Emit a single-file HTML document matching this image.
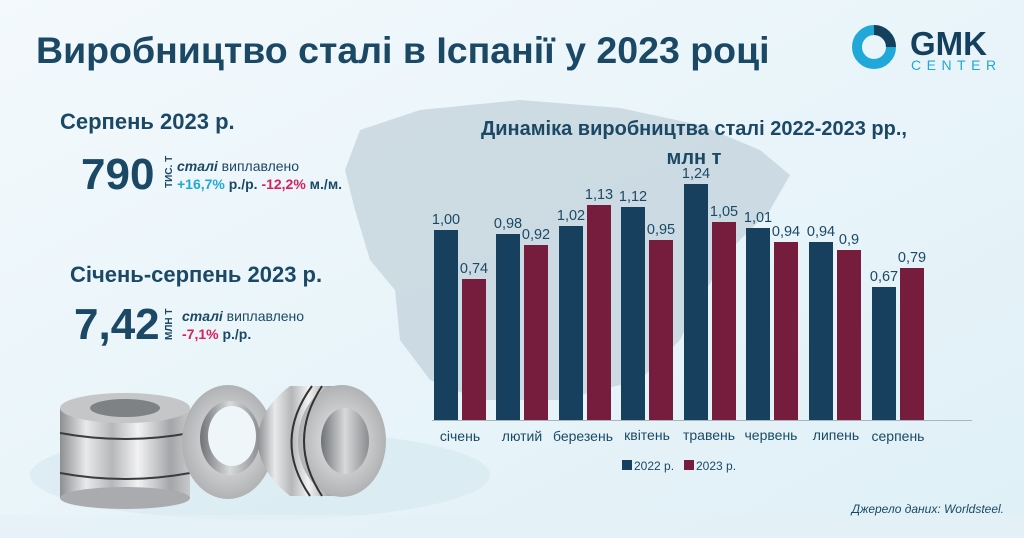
<!DOCTYPE html>
<html><head><meta charset="utf-8">
<style>
html,body{margin:0;padding:0}
body{width:1024px;height:538px;overflow:hidden;font-family:"Liberation Sans",sans-serif;}
svg text{font-family:"Liberation Sans",sans-serif;}
</style></head><body>
<svg width="1024" height="538" viewBox="0 0 1024 538" xmlns="http://www.w3.org/2000/svg">
<defs>
<linearGradient id="bg" x1="0" y1="0" x2="1" y2="1">
<stop offset="0" stop-color="#f3f9fc"/><stop offset="1" stop-color="#dff0f7"/>
</linearGradient>
<linearGradient id="metal" x1="0" y1="0" x2="1" y2="0">
<stop offset="0" stop-color="#8d8f92"/><stop offset="0.2" stop-color="#e8e9ea"/><stop offset="0.4" stop-color="#b5b7b9"/><stop offset="0.6" stop-color="#f2f2f3"/><stop offset="0.85" stop-color="#a3a5a8"/><stop offset="1" stop-color="#c8c9cb"/>
</linearGradient>
<radialGradient id="face" cx="0.5" cy="0.5" r="0.5">
<stop offset="0.5" stop-color="#cfd0d2"/><stop offset="1" stop-color="#b0b2b4"/>
</radialGradient>
<linearGradient id="hole" x1="0" y1="0" x2="1" y2="0">
<stop offset="0" stop-color="#6f7275"/><stop offset="0.5" stop-color="#d8d9da"/><stop offset="1" stop-color="#8a8c8f"/>
</linearGradient>
</defs>
<rect width="1024" height="538" fill="url(#bg)"/>
<path d="M360 130 L420 110 L520 100 L620 108 L700 125 L760 150 L790 175 L770 210 L730 250 L700 300 L680 340 L640 380 L560 400 L480 400 L430 380 L400 340 L395 290 L370 260 L355 210 L345 170 Z" fill="#b9c9d4" opacity="0.6"/>
<ellipse cx="260" cy="475" rx="230" ry="45" fill="#d6e7ef" opacity="0.6"/>
<rect x="0" y="515" width="1024" height="23" fill="#e4f1f7" opacity="0.7"/>

<text x="36" y="63" font-size="37.5" font-weight="bold" fill="#1b4965">Виробництво сталі в Іспанії у 2023 році</text>
<circle cx="874" cy="47" r="17" fill="none" stroke="#1fa8d8" stroke-width="10"/>
<path d="M874 30 A17 17 0 0 1 891 47" fill="none" stroke="#14405e" stroke-width="10"/>
<text x="910" y="55" font-size="33" font-weight="bold" fill="#14405e">GMK</text>
<text x="911" y="70" font-size="14" fill="#1fa8d8" letter-spacing="5.5">CENTER</text>

<text x="60" y="129" font-size="22" font-weight="bold" fill="#1b4965">Серпень 2023 р.</text>
<text x="81" y="189" font-size="44" font-weight="bold" fill="#1b4965">790</text>
<text transform="translate(172,188) rotate(-90)" font-size="10" font-weight="bold" fill="#1b4965">ТИС. Т</text>
<text x="177" y="171" font-size="14" fill="#1b4965"><tspan font-weight="bold" font-style="italic">сталі</tspan> виплавлено</text>
<text x="177" y="189" font-size="14" font-weight="bold" fill="#1b4965"><tspan fill="#1fa8d8">+16,7%</tspan> р./р. <tspan fill="#d81e5b">-12,2%</tspan> м./м.</text>

<text x="70" y="282" font-size="22" font-weight="bold" fill="#1b4965">Січень-серпень 2023 р.</text>
<text x="74" y="339" font-size="44" font-weight="bold" fill="#1b4965">7,42</text>
<text transform="translate(172,340) rotate(-90)" font-size="10" font-weight="bold" fill="#1b4965">МЛН Т</text>
<text x="182" y="321" font-size="14" fill="#1b4965"><tspan font-weight="bold" font-style="italic">сталі</tspan> виплавлено</text>
<text x="182" y="339" font-size="14" font-weight="bold" fill="#1b4965"><tspan fill="#d81e5b">-7,1%</tspan> р./р.</text>

<g>
<rect x="60" y="408" width="130" height="90" fill="url(#metal)"/>
<ellipse cx="125" cy="498" rx="65" ry="11" fill="#a9abae"/>
<ellipse cx="125" cy="408" rx="65" ry="15" fill="#c4c6c8"/>
<ellipse cx="125" cy="408" rx="35" ry="9" fill="#7f8285"/>
<path d="M60 433 Q125 445 190 433" stroke="#3a3c3f" stroke-width="2" fill="none"/>
<path d="M60 473 Q125 485 190 473" stroke="#3a3c3f" stroke-width="2" fill="none"/>
</g>
<g>
<ellipse cx="228" cy="442" rx="46" ry="57" fill="url(#face)"/>
<ellipse cx="230" cy="438" rx="30" ry="37" fill="url(#hole)"/>
<ellipse cx="232" cy="436" rx="24" ry="30" fill="#eef6fa"/>
</g>
<g>
<path d="M290 386 L342 386 L342 496 L290 496 Q258 470 258 441 Q258 410 290 386 Z" fill="url(#metal)"/>
<ellipse cx="342" cy="441" rx="44" ry="56" fill="url(#face)"/>
<ellipse cx="345" cy="441" rx="24" ry="33" fill="url(#hole)"/>
<path d="M312 386 Q272 441 310 496" stroke="#333" stroke-width="2" fill="none"/>
<path d="M322 386 Q286 441 322 496" stroke="#333" stroke-width="2" fill="none"/>
</g>

<text x="694" y="135" font-size="20" font-weight="bold" fill="#1b4965" text-anchor="middle">Динаміка виробництва сталі 2022-2023 рр.,</text>
<text x="694" y="164" font-size="20" font-weight="bold" fill="#1b4965" text-anchor="middle">млн т</text>

<g font-size="14.5" fill="#1b4965" text-anchor="middle">
<rect x="434" y="230" width="24" height="190" fill="#17405e"/><text x="446" y="224">1,00</text>
<rect x="462" y="279" width="24" height="141" fill="#761c3c"/><text x="474" y="273">0,74</text>
<rect x="496" y="234" width="24" height="186" fill="#17405e"/><text x="508" y="228">0,98</text>
<rect x="524" y="245" width="24" height="175" fill="#761c3c"/><text x="536" y="239">0,92</text>
<rect x="559" y="226" width="24" height="194" fill="#17405e"/><text x="571" y="220">1,02</text>
<rect x="587" y="205" width="24" height="215" fill="#761c3c"/><text x="599" y="199">1,13</text>
<rect x="621" y="207" width="24" height="213" fill="#17405e"/><text x="633" y="201">1,12</text>
<rect x="649" y="240" width="24" height="180" fill="#761c3c"/><text x="661" y="234">0,95</text>
<rect x="684" y="184" width="24" height="236" fill="#17405e"/><text x="696" y="178">1,24</text>
<rect x="712" y="222" width="24" height="198" fill="#761c3c"/><text x="724" y="216">1,05</text>
<rect x="746" y="228" width="24" height="192" fill="#17405e"/><text x="758" y="222">1,01</text>
<rect x="774" y="242" width="24" height="178" fill="#761c3c"/><text x="786" y="236">0,94</text>
<rect x="809" y="242" width="24" height="178" fill="#17405e"/><text x="821" y="236">0,94</text>
<rect x="837" y="250" width="24" height="170" fill="#761c3c"/><text x="849" y="244">0,9</text>
<rect x="872" y="287" width="24" height="133" fill="#17405e"/><text x="884" y="281">0,67</text>
<rect x="900" y="268" width="24" height="152" fill="#761c3c"/><text x="912" y="262">0,79</text>
</g>
<line x1="432" y1="420.5" x2="972" y2="420.5" stroke="#aab4bb" stroke-width="1"/>
<g font-size="14" fill="#1b4965" text-anchor="middle">
<text x="460" y="441">січень</text>
<text x="522" y="441">лютий</text>
<text x="583" y="441">березень</text>
<text x="647" y="440">квітень</text>
<text x="709" y="440">травень</text>
<text x="771" y="440">червень</text>
<text x="836" y="440">липень</text>
<text x="898" y="441">серпень</text>
</g>
<rect x="622" y="460" width="10" height="10" fill="#17405e"/>
<text x="634" y="470" font-size="12" fill="#1b4965">2022 р.</text>
<rect x="684" y="460" width="10" height="10" fill="#761c3c"/>
<text x="696" y="470" font-size="12" fill="#1b4965">2023 р.</text>

<text x="1004" y="513" font-size="12" font-style="italic" fill="#1b4965" text-anchor="end">Джерело даних:  Worldsteel.</text>
</svg>
</body></html>
